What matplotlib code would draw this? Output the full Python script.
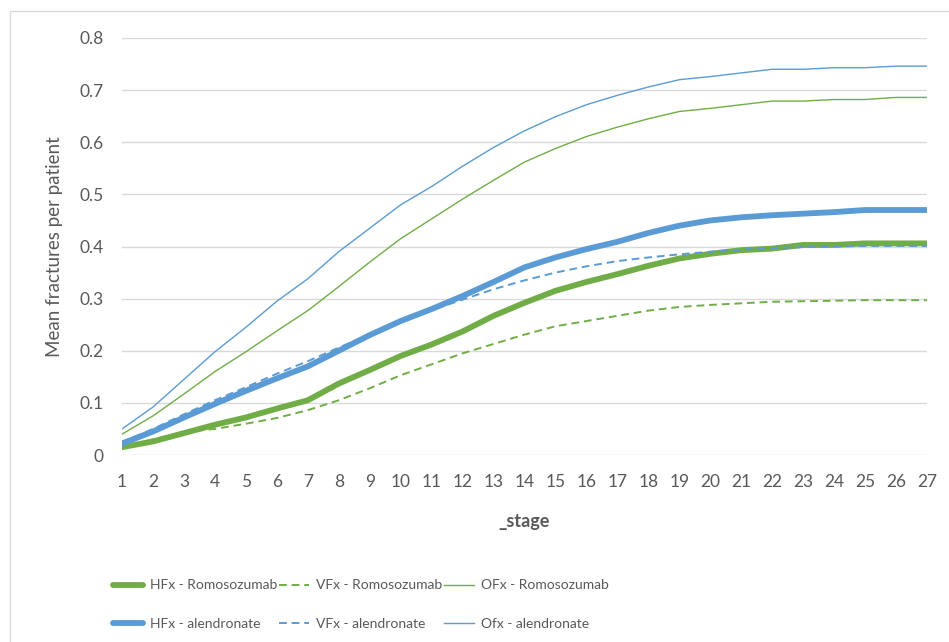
import matplotlib
matplotlib.use("Agg")
import matplotlib.pyplot as plt
from matplotlib.patches import Rectangle
import numpy as np

plt.rcParams['font.family'] = ['Lato', 'DejaVu Sans']

stages = list(range(1, 28))

hfx_romo = [0.015, 0.026, 0.042, 0.058, 0.072, 0.089, 0.105, 0.137, 0.163, 0.19, 0.212, 0.237,
            0.267, 0.292, 0.315, 0.332, 0.347, 0.363, 0.377, 0.386, 0.393, 0.396, 0.403, 0.403,
            0.406, 0.406, 0.406]
vfx_romo = [0.015, 0.03, 0.044, 0.05, 0.06, 0.071, 0.086, 0.105, 0.128, 0.153, 0.174, 0.195,
            0.213, 0.231, 0.247, 0.257, 0.267, 0.277, 0.284, 0.288, 0.291, 0.294, 0.295, 0.296,
            0.297, 0.297, 0.297]
ofx_romo = [0.04, 0.075, 0.117, 0.16, 0.198, 0.238, 0.277, 0.323, 0.37, 0.415, 0.453, 0.491,
            0.527, 0.562, 0.588, 0.611, 0.629, 0.645, 0.659, 0.665, 0.672, 0.679, 0.679, 0.682,
            0.682, 0.686, 0.686]
hfx_alen = [0.022, 0.045, 0.072, 0.098, 0.123, 0.147, 0.17, 0.2, 0.23, 0.257, 0.28, 0.305,
            0.332, 0.36, 0.379, 0.395, 0.409, 0.426, 0.44, 0.45, 0.456, 0.46, 0.463, 0.466,
            0.47, 0.47, 0.47]
vfx_alen = [0.025, 0.05, 0.078, 0.105, 0.13, 0.156, 0.18, 0.206, 0.232, 0.256, 0.278, 0.298,
            0.318, 0.335, 0.35, 0.362, 0.372, 0.379, 0.385, 0.39, 0.394, 0.397, 0.399, 0.4,
            0.401, 0.401, 0.401]
ofx_alen = [0.05, 0.092, 0.145, 0.198, 0.245, 0.295, 0.338, 0.39, 0.435, 0.48, 0.515, 0.554,
            0.59, 0.622, 0.649, 0.672, 0.69, 0.706, 0.72, 0.726, 0.733, 0.74, 0.74, 0.743,
            0.743, 0.746, 0.746]

green = '#70AD47'
blue = '#5B9BD5'
grey = '#595959'
dash = (0, (4, 2.5))

fig = plt.figure(figsize=(9.49, 6.42), dpi=100)
fig.patches.append(Rectangle((10/949, -0.01), 1.0, 1 - 11/642 + 0.01, transform=fig.transFigure,
                             fill=False, edgecolor='#D9D9D9', linewidth=1))
ax = fig.add_axes([122/949, 1 - 455/642, (927 - 122)/949, (455 - 38)/642])

ax.plot(stages, hfx_romo, color=green, lw=4.2, solid_capstyle='round', label='HFx - Romosozumab')
ax.plot(stages, vfx_romo, color=green, lw=1.4, ls=dash, label='VFx - Romosozumab')
ax.plot(stages, ofx_romo, color=green, lw=1.0, label='OFx - Romosozumab')
ax.plot(stages, hfx_alen, color=blue, lw=4.2, solid_capstyle='round', label='HFx - alendronate')
ax.plot(stages, vfx_alen, color=blue, lw=1.4, ls=dash, label='VFx - alendronate')
ax.plot(stages, ofx_alen, color=blue, lw=1.0, label='Ofx - alendronate')

ax.set_xlim(1, 27)
ax.set_ylim(0, 0.8)
ax.set_xticks(stages)
yt = np.arange(0, 0.81, 0.1)
ax.set_yticks(yt)
ax.set_yticklabels(['0'] + ['%.1f' % v for v in yt[1:]])
ax.tick_params(length=0, labelsize=12.5, colors=grey)
ax.tick_params(axis='y', pad=13)
ax.tick_params(axis='x', pad=14)
ax.grid(axis='y', color='#D9D9D9', lw=1)
ax.set_axisbelow(True)
for s in ax.spines.values():
    s.set_visible(False)

ax.set_ylabel('Mean fractures per patient', fontsize=13.5, color=grey, labelpad=12)
ax.set_xlabel('_stage', fontsize=13, color=grey, fontweight='bold', labelpad=16)

# legend is filled row by row in the reference
handles, labels = ax.get_legend_handles_labels()
order = [0, 3, 1, 4, 2, 5]
fig.legend([handles[i] for i in order], [labels[i] for i in order],
           loc='lower left', bbox_to_anchor=(100/949, 0.0), ncol=3,
           frameon=False, fontsize=10, labelcolor=grey, handlelength=2.2, handletextpad=0.5,
           columnspacing=0.1, labelspacing=1.88)

fig.savefig('out.png', dpi=100)
